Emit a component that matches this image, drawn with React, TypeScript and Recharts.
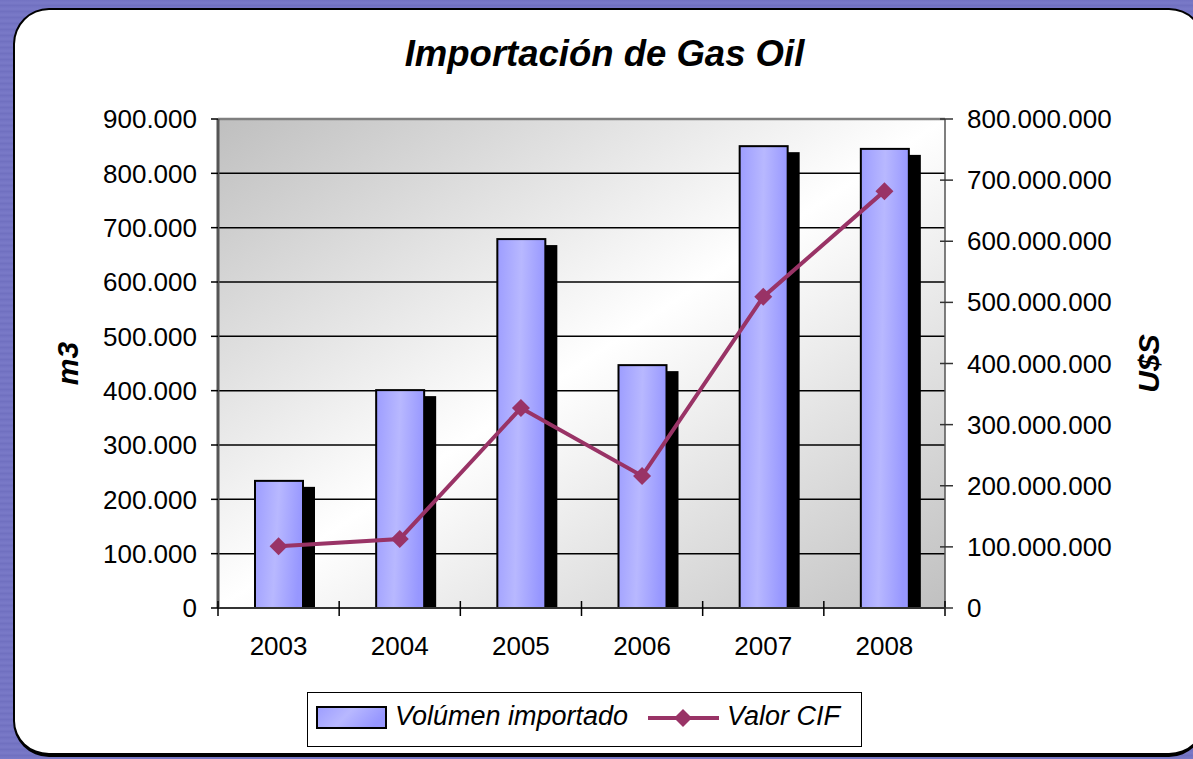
import React from 'react';
import {
  ComposedChart,
  Bar,
  Line,
  XAxis,
  YAxis,
  CartesianGrid,
  ReferenceLine,
  Label,
} from 'recharts';

const years = ['2003', '2004', '2005', '2006', '2007', '2008'];
const volumen = [234000, 401000, 679000, 447000, 850000, 845000];
const valorCif = [101000000, 113000000, 327000000, 216000000, 509000000, 682000000];
const leftTicks = [0, 100000, 200000, 300000, 400000, 500000, 600000, 700000, 800000, 900000];
const rightTicks = [0, 100000000, 200000000, 300000000, 400000000, 500000000, 600000000, 700000000, 800000000];

const data = years.map((year, i) => ({ year, vol: volumen[i], cif: valorCif[i] }));

const FONT = '"Liberation Sans", Arial, sans-serif';
const PLUM = '#993366';

const fmt = (n: number) => String(n).replace(/\B(?=(\d{3})+(?!\d))/g, '.');

const BarShape = (p: any) => {
  const { x, y, width, height } = p;
  if (!height || height <= 0) return null;
  return (
    <g>
      <rect x={x + 12} y={y + 6} width={width} height={Math.max(height - 6, 0)} fill="#000" />
      <rect x={x} y={y} width={width} height={height} fill="url(#barGrad)" stroke="#000" strokeWidth={2} />
    </g>
  );
};

const Diamond = (p: any) => {
  const { cx, cy, index } = p;
  if (cx == null || cy == null) return null;
  return <path key={index} d={`M${cx} ${cy - 9}L${cx + 9} ${cy}L${cx} ${cy + 9}L${cx - 9} ${cy}Z`} fill={PLUM} />;
};

const XTick = (p: any) => {
  const { x, y, payload, index, visibleTicksCount } = p;
  const count = visibleTicksCount || years.length;
  const half = (p.width || 727) / count / 2;
  return (
    <g>
      <line x1={x - half} x2={x - half} y1={y - 7} y2={y + 8} stroke="#000" strokeWidth={1.5} />
      {index === count - 1 && (
        <line x1={x + half} x2={x + half} y1={y - 7} y2={y + 8} stroke="#000" strokeWidth={1.5} />
      )}
      <text x={x} y={y + 38} dy="0.35em" textAnchor="middle" fill="#000" fontSize={26} fontFamily={FONT}>
        {payload.value}
      </text>
    </g>
  );
};

const RightTick = (p: any) => {
  const { x, y, payload } = p;
  return (
    <g>
      <line x1={x - 27} x2={x - 14} y1={y} y2={y} stroke="#333" strokeWidth={1.5} />
      <text x={x} y={y} dy="0.35em" textAnchor="start" fill="#000" fontSize={26} fontFamily={FONT}>
        {fmt(payload.value)}
      </text>
    </g>
  );
};

const AxisTitle = (text: string, dx: number) => (props: any) => {
  const vb = props.viewBox || { x: 0, y: 0, width: 0, height: 0 };
  const cx = vb.x + dx;
  const cy = vb.y + vb.height / 2;
  return (
    <text
      x={cx}
      y={cy}
      transform={`rotate(-90, ${cx}, ${cy})`}
      textAnchor="middle"
      dominantBaseline="central"
      fontSize={30}
      fontWeight="bold"
      fontStyle="italic"
      fontFamily={FONT}
      fill="#000"
    >
      {text}
    </text>
  );
};

const legendText: React.CSSProperties = {
  position: 'absolute',
  fontFamily: FONT,
  fontStyle: 'italic',
  fontSize: 27,
  lineHeight: '27px',
  color: '#000',
  whiteSpace: 'nowrap',
};

export default function App() {
  return (
    <div
      style={{
        position: 'fixed',
        left: 0,
        top: 0,
        width: 1193,
        height: 759,
        overflow: 'hidden',
        background: 'repeating-linear-gradient(180deg, #7272c2 0px, #7a7ac8 3px, #6e6ebe 6px)',
      }}
    >
      <div
        style={{
          position: 'absolute',
          left: 13,
          top: 8,
          width: 1192,
          height: 749,
          boxSizing: 'border-box',
          background: '#fff',
          border: '2px solid #000',
          borderBottom: '4px solid #000',
          borderRadius: 36,
        }}
      />
      <div
        style={{
          position: 'absolute',
          left: 8,
          top: 36,
          width: 1193,
          textAlign: 'center',
          fontFamily: FONT,
          fontWeight: 'bold',
          fontStyle: 'italic',
          fontSize: 36.5,
          lineHeight: '36px',
          color: '#000',
        }}
      >
        Importación de Gas Oil
      </div>
      <div style={{ position: 'absolute', left: 0, top: 0 }}>
        <ComposedChart
          width={1193}
          height={759}
          data={data}
          margin={{ top: 119, right: 0, bottom: 0, left: 0 }}
          barSize={48}
        >
          <defs>
            <linearGradient id="plotGrad" x1="0" y1="0" x2="1" y2="1">
              <stop offset="0%" stopColor="#bfbfbf" />
              <stop offset="50%" stopColor="#ffffff" />
              <stop offset="100%" stopColor="#c0c0c0" />
            </linearGradient>
            <linearGradient id="barGrad" x1="0" y1="0" x2="1" y2="0.15">
              <stop offset="0%" stopColor="#9d9dff" />
              <stop offset="50%" stopColor="#b8b8ff" />
              <stop offset="100%" stopColor="#9797ff" />
            </linearGradient>
          </defs>
          <CartesianGrid
            yAxisId="left"
            vertical={false}
            stroke="#000"
            strokeWidth={1.5}
            fill="url(#plotGrad)"
            fillOpacity={1}
          />
          <XAxis
            dataKey="year"
            height={151}
            interval={0}
            axisLine={{ stroke: '#333', strokeWidth: 2 }}
            tickLine={false}
            tickSize={0}
            tickMargin={0}
            tick={<XTick />}
          />
          <YAxis
            yAxisId="left"
            orientation="left"
            width={218}
            domain={[0, 900000]}
            ticks={leftTicks}
            interval={0}
            tickFormatter={fmt}
            axisLine={{ stroke: '#555', strokeWidth: 3 }}
            tickLine={{ stroke: '#000', strokeWidth: 1.5 }}
            tickSize={7}
            tickMargin={14}
            tick={{ fill: '#000', fontSize: 26, fontFamily: FONT }}
          >
            <Label content={AxisTitle('m3', 67)} />
          </YAxis>
          <YAxis
            yAxisId="right"
            orientation="right"
            width={248}
            domain={[0, 800000000]}
            ticks={rightTicks}
            interval={0}
            axisLine={{ stroke: '#555', strokeWidth: 1.5 }}
            tickLine={false}
            tickSize={8}
            tickMargin={14}
            tick={<RightTick />}
          >
            <Label content={AxisTitle('U$S', 203)} />
          </YAxis>
          <ReferenceLine yAxisId="left" y={900000} stroke="#7f7f7f" strokeWidth={2.5} />
          <Bar yAxisId="left" dataKey="vol" shape={<BarShape />} isAnimationActive={false} />
          <Line
            yAxisId="right"
            dataKey="cif"
            stroke={PLUM}
            strokeWidth={4}
            dot={<Diamond />}
            activeDot={false}
            isAnimationActive={false}
          />
        </ComposedChart>
      </div>
      <div
        style={{
          position: 'absolute',
          left: 307,
          top: 692,
          width: 555,
          height: 55,
          boxSizing: 'border-box',
          border: '1px solid #000',
          background: '#fff',
        }}
      >
        <svg style={{ position: 'absolute', left: 8, top: 13 }} width={71} height={24}>
          <defs>
            <linearGradient id="legGrad" x1="0" y1="0" x2="1" y2="0.3">
              <stop offset="0%" stopColor="#9d9dff" />
              <stop offset="50%" stopColor="#b8b8ff" />
              <stop offset="100%" stopColor="#9797ff" />
            </linearGradient>
          </defs>
          <rect x={1} y={1} width={69} height={21} fill="url(#legGrad)" stroke="#000" strokeWidth={2} />
        </svg>
        <span style={{ ...legendText, left: 87, top: 10 }}>Volúmen importado</span>
        <svg style={{ position: 'absolute', left: 340, top: 13 }} width={71} height={24}>
          <line x1={0} x2={71} y1={12} y2={12} stroke={PLUM} strokeWidth={4} />
          <path d="M35 3L44 12L35 21L26 12Z" fill={PLUM} />
        </svg>
        <span style={{ ...legendText, left: 419, top: 10 }}>Valor CIF</span>
      </div>
    </div>
  );
}
